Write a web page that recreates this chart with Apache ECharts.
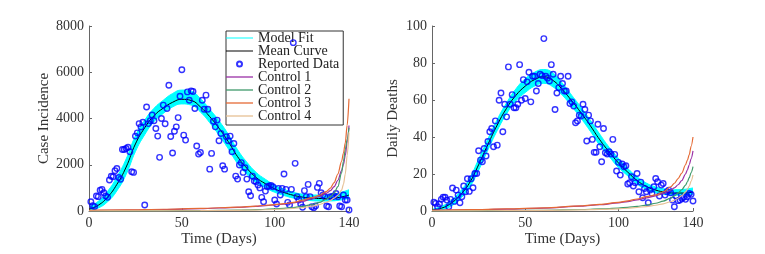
<!DOCTYPE html>
<html>
<head>
<meta charset="utf-8">
<script src="https://cdn.jsdelivr.net/npm/echarts@6/dist/echarts.min.js"></script>
<style>html,body{margin:0;padding:0;background:#fff}#c{width:765px;height:254px}</style>
</head>
<body>
<div id="c"></div>
<script>
// ---- data ----
var xTicks = [0, 50, 100, 140];
var caseTicks = [0, 2000, 4000, 6000, 8000];
var deathTicks = [0, 20, 40, 60, 80, 100];

var dataDays = [1,2,3,4,5,6,7,8,9,10,11,12,13,14,15,16,17,18,19,20,21,22,23,24,25,26,27,28,29,30,31,32,33,34,35,36,37,38,39,40,41,42,43,44,45,46,47,48,49,50,51,52,53,54,55,56,57,58,59,60,61,62,63,64,65,66,67,68,69,70,71,72,73,74,75,76,77,78,79,80,81,82,83,84,85,86,87,88,89,90,91,92,93,94,95,96,97,98,99,100,101,102,103,104,105,106,107,108,109,110,111,112,113,114,115,116,117,118,119,120,121,122,123,124,125,126,127,128,129,130,131,132,133,134,135,136,137,138,139,140];

var caseData = [400,230,190,650,620,900,935,790,650,590,1340,1500,1480,1740,1840,1450,1370,2660,2660,2700,2760,2560,1700,1670,3240,3380,3780,3630,3840,260,4500,3780,3900,4150,3900,3570,3240,2320,4000,4580,3770,4430,5440,3220,2510,3450,3640,4040,4960,6110,3280,3065,5150,4790,5195,5170,4430,2810,2460,2530,4790,4400,5010,4400,1810,2490,3880,3640,3930,3040,3350,1960,1810,3210,3040,3240,2560,2920,1510,1380,1990,2090,1670,1870,1380,835,660,1510,1295,1265,1120,1000,590,400,860,1050,1080,1110,1050,475,300,980,690,980,1600,935,375,260,935,7280,2060,620,475,300,160,880,620,1150,620,187,145,215,1020,1195,790,690,620,215,187,620,620,650,760,620,215,187,690,475,475,45];

var deathData = [4.7,4.1,2.3,3.8,6.3,7.4,7.4,5.9,2.3,6.3,12.4,5.2,11.3,8.6,4.5,7.7,13.5,10.4,17.4,10.6,17.4,12.6,20.3,20.3,32.6,27.5,26.6,33.8,29.7,37.6,42.8,44.6,34.7,48.7,35.6,59.9,63.8,42.8,57.7,50.9,77.9,57.7,62.9,55.8,55.8,57.7,79.1,59.9,71,60.8,69.8,75,59,72.8,72.8,64.9,68.9,73.9,73.2,93.2,72.8,71.8,70.3,79.1,73.9,54.9,63.8,66.7,72.8,68.9,64.9,64.9,72.8,58.1,59,56.7,47.7,48.7,51.8,51.3,57.7,54.9,37.8,51.8,48.7,38.7,31.7,31.7,46.9,34.7,26.6,44.6,31.5,30.8,32,30.8,38.7,30.6,21.6,26.3,19.4,25.4,23.9,24.5,14.6,15.3,18.5,13.5,15.3,20.3,10.4,15.6,7.2,12.2,10.4,4.5,11.3,9.5,13.1,17.6,15.8,8.1,14,14.9,8.6,10.4,11.3,9.9,5.9,2.3,8.1,5.6,5.9,6.8,7.4,6.3,7.7,9.5,9,5.4];

var curveDays = [0,5,10,15,20,25,30,35,40,45,50,55,60,65,70,75,80,85,90,95,100,105,110,115,120,125,130,135,140];
var caseMean  = [80,250,600,1150,1900,2900,3600,4120,4450,4700,4830,4780,4500,4080,3580,3000,2350,1850,1450,1180,960,800,680,600,555,540,545,590,690];
var caseLower = [20,130,400,870,1580,2570,3300,3860,4220,4500,4630,4580,4280,3820,3280,2690,2050,1590,1230,1000,810,670,560,490,445,430,435,470,540];
var caseUpper = [180,420,850,1470,2250,3250,3930,4440,4790,5080,5230,5180,4860,4400,3900,3320,2650,2110,1670,1370,1120,940,810,730,695,690,715,790,920];

var deathMean  = [0.5,1.5,4,8.5,15,25,36,46.5,55.5,62.5,67.5,71,72.5,70.5,65.5,59.5,53,46,38.5,32,26,21,16.5,13.3,11.3,10.2,9.7,9.7,10.2];
var deathLower = [0.2,0.7,2.5,6.5,12.5,22,33,43.5,52.5,59.5,64,67.5,69,67,62.5,56.5,50,43,35.5,29.5,23.5,19,14.5,11.8,9.8,8.9,8.5,8.5,9];
var deathUpper = [1,2.5,5.5,10.5,17.5,28,39,49.5,58.5,66,71.5,75,76.5,74.5,69,62.5,56,49,41.5,34.5,28.5,23,18.5,15.1,13,11.9,11.5,11.7,12.5];

var controlDays = [0,20,40,60,80,90,100,105,110,115,120,124,128,130,132,134,136,137,138,139,140];
var caseControl1 = [20,40,65,100,160,200,260,300,350,420,520,620,770,880,1050,1330,1750,2000,2400,2950,3700];
var caseControl2 = [0,5,10,20,40,60,90,115,150,200,280,370,520,620,780,1050,1650,2150,2650,3100,3600];
var caseControl3 = [30,50,75,110,170,215,280,320,370,470,580,680,850,990,1230,1600,2150,2500,2950,3700,4850];
var caseControl4 = [0,3,7,14,28,42,65,85,110,150,210,280,390,460,560,680,900,1150,1600,2400,3400];

var deathControl1 = [0.3,0.6,1.0,1.6,2.6,3.4,4.4,5.1,6.0,7.1,8.2,9.4,11.3,12.5,14.2,16.5,20,22.3,25,28.3,32.5];
var deathControl2 = [0,0.1,0.2,0.4,0.8,1.1,1.6,2.0,2.5,3.2,4.2,5.3,7,8.2,9.7,11.5,14,15.8,18,20.8,24];
var deathControl3 = [0.4,0.7,1.1,1.7,2.8,3.6,4.7,5.5,6.5,7.8,8.7,10.3,13,15,17.5,20.5,25,27.5,30.5,35,40];
var deathControl4 = [0,0.1,0.15,0.3,0.6,0.85,1.2,1.5,1.9,2.4,3.1,3.9,5.0,5.8,6.9,8.3,10.3,11.7,13.5,16.2,19.5];

var controlNames = ['Control 1','Control 2','Control 3','Control 4'];
var controlColors = ['#9a2fa6','#3f9a6b','#e56a35','#e6c094'];

// ---- chart ----
var FONT = 'Liberation Serif';
function pairs(xs, ys){ return xs.map(function(x,i){ return [x, ys[i]]; }); }

function axisCommon(ticks){
  return {
    z:3,
    axisLine:{show:true, lineStyle:{color:'#666', width:1}},
    axisTick:{show:true, inside:true, length:3, lineStyle:{color:'#666'}, customValues:ticks},
    splitLine:{show:false},
    axisLabel:{fontFamily:FONT, fontSize:14, color:'#333', customValues:ticks,
      formatter:function(v){ return String(v); }},
    nameTextStyle:{fontFamily:FONT, fontSize:15, color:'#333'}
  };
}
function xAxis(gi){
  var a = axisCommon(xTicks);
  a.type='value'; a.gridIndex=gi; a.min=0; a.max=140; a.interval=50;
  a.name='Time (Days)'; a.nameLocation='middle'; a.nameGap=21; a.nameMoveOverlap=false;
  a.axisLabel.margin=5;
  return a;
}
function yAxis(gi, ticks, interval, name, gap){
  var a = axisCommon(ticks);
  a.type='value'; a.gridIndex=gi; a.min=0; a.max=ticks[ticks.length-1]; a.interval=interval;
  a.name=name; a.nameLocation='middle'; a.nameGap=gap;
  a.axisLabel.margin=5;
  return a;
}

function panelSeries(gi, mean, lower, upper, data, controls){
  var s = [];
  s.push({name:'Model Fit', type:'line', xAxisIndex:gi, yAxisIndex:gi,
    data:pairs(curveDays, upper), smooth:true, symbol:'none', z:2,
    lineStyle:{color:'#00ffff', width:1}, itemStyle:{color:'#00ffff'},
    areaStyle:{color:'#00ffff', opacity:1}});
  s.push({name:'fitLow', type:'line', xAxisIndex:gi, yAxisIndex:gi,
    data:pairs(curveDays, lower), smooth:true, symbol:'none', z:2,
    lineStyle:{color:'#00ffff', width:1}, itemStyle:{color:'#00ffff'},
    areaStyle:{color:'#ffffff', opacity:1}});
  s.push({name:'Mean Curve', type:'line', xAxisIndex:gi, yAxisIndex:gi,
    data:pairs(curveDays, mean), smooth:true, symbol:'none', z:4,
    lineStyle:{color:'#000', width:1}, itemStyle:{color:'#000'}});
  s.push({name:'Reported Data', type:'scatter', xAxisIndex:gi, yAxisIndex:gi,
    data:pairs(dataDays, data), symbol:'circle', symbolSize:5.5, z:5,
    itemStyle:{color:'rgba(0,0,0,0)', borderColor:'#0000ff', borderWidth:1.4}});
  controls.forEach(function(c, k){
    s.push({name:controlNames[k], type:'line', xAxisIndex:gi, yAxisIndex:gi,
      data:pairs(controlDays, c), smooth:0.3, smoothMonotone:'x', symbol:'none', z:6,
      lineStyle:{color:controlColors[k], width:1.2}, itemStyle:{color:controlColors[k]}});
  });
  return s;
}

var LINE_ICON = 'path://M0,0h27v1h-27z';
var LINE_ICON2 = 'path://M0,0h27v1.3h-27z';
var legendData = [
  {name:'Model Fit', icon:LINE_ICON},
  {name:'Mean Curve', icon:LINE_ICON},
  {name:'Reported Data'},
  {name:'Control 1', icon:LINE_ICON2},
  {name:'Control 2', icon:LINE_ICON2},
  {name:'Control 3', icon:LINE_ICON2},
  {name:'Control 4', icon:LINE_ICON2}
];

var chart = echarts.init(document.getElementById('c'), null, {renderer:'canvas'});
chart.setOption({
  animation:false,
  backgroundColor:'#fff',
  grid:[
    {left:89, top:26, width:260, height:185},
    {left:432, top:26, width:261, height:185}
  ],
  xAxis:[xAxis(0), xAxis(1)],
  yAxis:[yAxis(0, caseTicks, 2000, 'Case Incidence', 37), yAxis(1, deathTicks, 20, 'Daily Deaths', 31)],
  legend:{
    orient:'vertical', left:226, top:31, z:4,
    data:legendData,
    itemWidth:27, itemHeight:5, itemGap:-1, itemTextGap:1,
    padding:[0,4,2,0],
    backgroundColor:'#fff', borderColor:'#333', borderWidth:1, borderRadius:0,
    textStyle:{fontFamily:FONT, fontSize:14, lineHeight:12, color:'#222'}
  },
  series: panelSeries(0, caseMean, caseLower, caseUpper, caseData, [caseControl1, caseControl2, caseControl3, caseControl4])
    .concat(panelSeries(1, deathMean, deathLower, deathUpper, deathData, [deathControl1, deathControl2, deathControl3, deathControl4]))
});
</script>
</body>
</html>
